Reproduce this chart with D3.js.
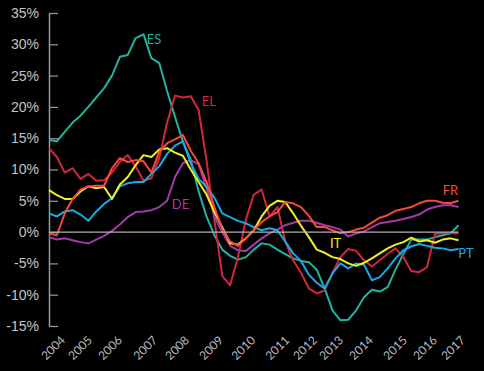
<!DOCTYPE html>
<html>
<head>
<meta charset="utf-8">
<script src="https://cdn.jsdelivr.net/npm/d3@7"></script>
<style>
  body { margin: 0; background: #000; }
  svg { display: block; font-family: Lato, "Open Sans", sans-serif; }
</style>
</head>
<body>
<svg width="484" height="371"></svg>
<script>
// quarterly house price growth, % y/y, 2004 Q1 .. 2017 Q1
const startYear = 2004;
const es = [14.7,14.5,16.0,17.5,18.6,20.0,21.5,23.0,25.0,28.0,28.3,31.0,31.6,27.8,27.0,22.5,18.4,14.5,11.5,6.5,2.5,-0.5,-2.8,-3.8,-4.4,-4.0,-2.8,-1.8,-2.0,-2.8,-3.5,-4.2,-4.6,-4.8,-6.0,-9.0,-12.5,-14.1,-14.0,-12.5,-10.4,-9.2,-9.5,-8.8,-6.0,-3.5,-1.2,-1.2,-1.2,-0.8,-0.5,-0.2,1.1];
const el = [13.4,12.0,9.5,10.2,8.5,9.3,8.2,8.3,9.5,11.2,12.3,10.5,8.2,8.6,11.8,17.5,21.8,21.5,21.7,19.5,11.5,2.0,-7.0,-8.5,-4.0,2.0,6.0,6.8,2.5,4.0,-1.5,-4.5,-6.5,-9.0,-9.8,-9.3,-6.5,-4.0,-2.7,-3.0,-4.5,-5.5,-4.5,-3.5,-2.6,-4.0,-6.2,-6.4,-5.6,-0.3,-0.2,-0.2,-0.2];
const fr = [-0.2,-0.5,3.0,5.3,6.8,7.3,7.4,7.4,10.2,11.8,11.2,11.5,11.3,9.5,12.8,14.2,14.8,15.5,13.0,11.0,8.0,4.0,0.5,-1.5,-2.2,-1.0,0.3,1.6,2.5,3.2,4.8,4.6,4.0,2.6,0.8,0.8,0.3,-0.2,0.0,0.4,0.7,1.5,2.3,2.7,3.4,3.7,4.0,4.6,5.0,5.0,4.7,4.6,5.0];
const it = [6.7,5.9,5.3,5.3,6.5,7.3,7.0,7.2,5.3,7.6,8.8,10.7,12.3,12.0,13.2,13.4,12.7,12.2,10.0,8.0,6.0,3.2,0.8,-1.8,-2.0,-1.0,0.3,2.5,4.2,5.0,4.8,3.0,1.0,-0.8,-2.8,-3.3,-4.0,-4.3,-5.0,-5.4,-4.9,-4.2,-3.4,-2.6,-2.0,-1.6,-0.9,-1.5,-1.3,-1.7,-1.2,-1.0,-1.3];
const pt = [3.0,2.5,3.3,3.5,2.8,1.8,3.3,4.5,5.4,7.3,7.8,8.0,8.0,9.3,10.5,12.5,13.8,14.5,11.0,8.5,7.2,5.5,3.0,2.4,1.8,1.4,0.8,0.3,0.6,0.3,-1.5,-3.4,-4.6,-6.8,-8.1,-9.0,-6.6,-5.0,-5.8,-5.0,-5.2,-7.7,-7.2,-5.8,-4.2,-2.9,-2.3,-1.9,-2.2,-2.5,-2.6,-2.9,-2.7];
const de = [-0.8,-1.2,-1.0,-1.3,-1.6,-1.8,-1.2,-0.6,0.2,1.2,2.4,3.2,3.3,3.5,4.0,5.0,8.8,11.0,11.5,10.8,7.0,2.5,0.0,-2.2,-2.9,-3.0,-2.0,-1.0,-0.2,0.4,1.1,1.5,1.8,1.8,1.5,1.1,0.8,0.4,-0.7,-0.2,0.1,0.8,1.4,1.6,1.8,2.1,2.4,2.8,3.6,4.0,4.3,4.3,4.0];

const yTicks = [-15, -10, -5, 0, 5, 10, 15, 20, 25, 30, 35];
const yearLabels = ['2004','2005','2006','2007','2008','2009','2010','2011','2012','2013','2014','2015','2016','2017'];
const yearLabelAt = [2004.44,2005.30,2006.25,2007.37,2008.38,2009.46,2010.48,2011.56,2012.44,2013.27,2014.22,2015.30,2016.25,2017.14];

const series = [
  {name: 'ES', values: es, color: '#22b2a2', lx: 2007.1, ly: 30.0},
  {name: 'EL', values: el, color: '#d3263c', lx: 2008.85, ly: 20.2},
  {name: 'DE', values: de, color: '#a43aa7', lx: 2007.9, ly: 3.7},
  {name: 'PT', values: pt, color: '#1aa9e4', lx: 2016.99, ly: -4.2},
  {name: 'IT', values: it, color: '#f1ee22', lx: 2012.92, ly: -2.6},
  {name: 'FR', values: fr, color: '#f6493b', lx: 2016.5, ly: 5.9}
];

const svg = d3.select('svg');
const margin = {left: 49, top: 13, right: 25.5, bottom: 45};
const width = +svg.attr('width') - margin.left - margin.right;
const height = +svg.attr('height') - margin.top - margin.bottom;

const x = d3.scaleLinear().domain([2004, 2017]).range([0, width]);
const y = d3.scaleLinear().domain([-15, 35]).range([height, 0]);

const g = svg.append('g')
  .attr('transform', `translate(${margin.left},${margin.top})`);

// y axis, ticks point into the plot
const yAxisG = g.append('g')
  .call(d3.axisLeft(y).tickValues(yTicks).tickSize(-9).tickSizeOuter(0).tickPadding(10)
    .tickFormat(d => d + '%'));
yAxisG.select('.domain').attr('stroke', '#9a9a9a').attr('stroke-width', 1.5);
yAxisG.selectAll('.tick line').attr('stroke', '#9a9a9a').attr('stroke-width', 1.2);
yAxisG.selectAll('text').attr('fill', '#c4c4c4').attr('font-size', 14);

const line = d3.line()
  .x((d, i) => x(startYear + i / 4))
  .y(d => y(d));

g.selectAll('path.series')
  .data(series).enter().append('path')
    .attr('class', 'series')
    .attr('d', d => line(d.values))
    .attr('fill', 'none')
    .attr('stroke', d => d.color)
    .attr('stroke-width', 2)
    .attr('stroke-linejoin', 'round');

// zero line
g.append('line')
  .attr('x1', 0).attr('x2', x(2017))
  .attr('y1', y(0)).attr('y2', y(0))
  .attr('stroke', '#b4b4b4').attr('stroke-width', 1.3);

g.selectAll('text.lab')
  .data(series).enter().append('text')
    .attr('class', 'lab')
    .attr('x', d => x(d.lx))
    .attr('y', d => y(d.ly))
    .attr('fill', d => d.color)
    .attr('font-size', 13)
    .text(d => d.name);

// year labels, rotated
g.selectAll('text.year')
  .data(yearLabels).enter().append('text')
    .attr('class', 'year')
    .attr('transform', (d, i) => `translate(${x(yearLabelAt[i])},${height + 12}) rotate(-45)`)
    .attr('text-anchor', 'end')
    .attr('dy', '0.35em')
    .attr('fill', '#b8b8b8')
    .attr('font-size', 12)
    .text(d => d);
</script>
</body>
</html>
